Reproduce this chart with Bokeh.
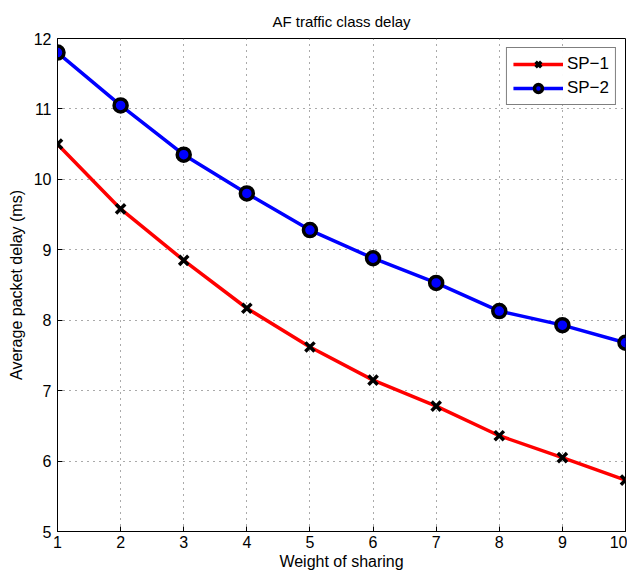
from bokeh.plotting import figure
from bokeh.models import Range1d, FixedTicker, Legend, LegendItem
from bokeh.embed import file_html
from bokeh.resources import INLINE

weights = [1, 2, 3, 4, 5, 6, 7, 8, 9, 10]
sp1 = [10.5, 9.58, 8.85, 8.17, 7.62, 7.15, 6.78, 6.36, 6.05, 5.73]
sp2 = [11.8, 11.05, 10.35, 9.8, 9.28, 8.88, 8.53, 8.13, 7.93, 7.68]
x_ticks = [1, 2, 3, 4, 5, 6, 7, 8, 9, 10]
y_ticks = [5, 6, 7, 8, 9, 10, 11, 12]

FONT = "Liberation Sans"

p = figure(width=627, height=578, output_backend="svg", toolbar_location=None,
           x_range=Range1d(1, 10), y_range=Range1d(5, 12),
           title="AF traffic class delay",
           min_border_left=57, min_border_right=2, min_border_top=38, min_border_bottom=47)
p.title.align = "center"
p.title.text_font = FONT
p.title.text_font_size = "15px"
p.title.text_font_style = "normal"
p.title.text_color = "black"
p.title.offset = 0
p.title.standoff = 17

p.outline_line_color = "black"
p.outline_line_width = 1
p.background_fill_color = "white"
p.border_fill_color = "white"

for ax in (p.xaxis[0], p.yaxis[0]):
    ax.major_tick_in = 5
    ax.major_tick_out = 0
    ax.minor_tick_line_color = None
    ax.axis_line_color = "black"
    ax.major_tick_line_color = "black"
    ax.major_label_text_font = FONT
    ax.major_label_text_font_size = "16px"
    ax.axis_label_text_font = FONT
    ax.axis_label_text_font_size = "16px"
    ax.axis_label_text_font_style = "normal"
    ax.axis_label_text_color = "black"
    ax.major_label_text_color = "black"

p.xaxis.ticker = FixedTicker(ticks=x_ticks)
p.yaxis.ticker = FixedTicker(ticks=y_ticks)
p.xaxis.axis_label = "Weight of sharing"
p.yaxis.axis_label = "Average packet delay (ms)"
p.xaxis.major_label_standoff = 4
p.yaxis.major_label_standoff = 6
p.xaxis.axis_label_standoff = 2
p.yaxis.axis_label_standoff = 6

p.grid.grid_line_color = "#555555"
p.grid.grid_line_dash = "1 5"
p.grid.grid_line_width = 1

l1 = p.line(weights, sp1, line_color="red", line_width=3.5)
m1 = p.scatter(weights, sp1, marker="x", size=13, line_color="black", line_width=3.5)
l2 = p.line(weights, sp2, line_color="blue", line_width=3.5)
m2 = p.scatter(weights, sp2, marker="circle", size=13, fill_color="blue",
               line_color="black", line_width=3.5)

legend = Legend(items=[LegendItem(label="SP\u22121", renderers=[l1, m1]),
                       LegendItem(label="SP\u22122", renderers=[l2, m2])],
                location="top_right")
legend.border_line_color = "black"
legend.border_line_width = 1.5
legend.label_text_font = FONT
legend.label_text_font_size = "17px"
legend.label_text_color = "black"
legend.glyph_width = 50
legend.glyph_height = 20
legend.spacing = 4
legend.padding = 6
legend.margin = 9
legend.label_standoff = 4
p.add_layout(legend)

open("out.html", "w").write(file_html(p, INLINE))
